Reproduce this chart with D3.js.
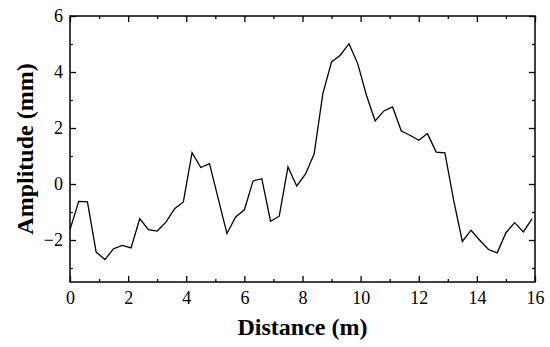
<!DOCTYPE html>
<html>
<head>
<meta charset="utf-8">
<script src="https://cdn.jsdelivr.net/npm/d3@7"></script>
<style>
  body { margin: 0; background: #fff; }
  svg text { font-family: "Liberation Serif", "Times New Roman", serif !important; }
</style>
</head>
<body>
<div id="chart"></div>
<script>
"use strict";
// distance (m) sampled every 0.3 m
const distance = [0, 0.3, 0.6, 0.9, 1.2, 1.5, 1.8, 2.1, 2.4, 2.7, 3.0, 3.3, 3.6, 3.9,
  4.2, 4.5, 4.8, 5.1, 5.4, 5.7, 6.0, 6.3, 6.6, 6.9, 7.2, 7.5, 7.8, 8.1, 8.4, 8.7,
  9.0, 9.3, 9.6, 9.9, 10.2, 10.5, 10.8, 11.1, 11.4, 11.7, 12.0, 12.3, 12.6, 12.9,
  13.2, 13.5, 13.8, 14.1, 14.4, 14.7, 15.0, 15.3, 15.6, 15.9];
// amplitude (mm)
const amplitude = [-1.63, -0.62, -0.64, -2.43, -2.70, -2.31, -2.19, -2.28, -1.24, -1.63,
  -1.68, -1.36, -0.88, -0.64, 1.12, 0.59, 0.73, -0.52, -1.77, -1.18, -0.92, 0.11, 0.19,
  -1.33, -1.15, 0.61, -0.07, 0.35, 1.07, 3.23, 4.36, 4.60, 5.01, 4.30, 3.17, 2.25, 2.61,
  2.75, 1.89, 1.74, 1.56, 1.80, 1.14, 1.11, -0.58, -2.05, -1.65, -2.01, -2.34, -2.46,
  -1.74, -1.38, -1.71, -1.24];
const xTicks = [0, 2, 4, 6, 8, 10, 12, 14, 16];
const yTicks = [-2, 0, 2, 4, 6];

const serif = "'Liberation Serif', 'Times New Roman', serif";

function createLineChart(containerId = "chart") {
  const width = 550, height = 347;
  const margin = { top: 16, right: 15, bottom: 65, left: 70 };
  const svg = d3.select(`#${containerId}`)
    .append("svg")
    .attr("width", width)
    .attr("height", height)
    .attr("font-family", serif);

  const x = d3.scaleLinear().domain([0, 16]).range([margin.left, width - margin.right]);
  const y = d3.scaleLinear().domain([-3.5, 6]).range([height - margin.bottom, margin.top]);

  const xMinor = d3.range(1, 16, 2);
  const yMinor = [-3, -1, 1, 3, 5];

  // ticks inward on all four sides
  function styleAxis(g) {
    g.attr("font-family", serif).attr("font-size", 18);
    g.selectAll(".domain").remove();
    g.selectAll("line").attr("stroke", "#000").attr("stroke-width", 1.3);
    g.selectAll("text").attr("fill", "#000").style("font-size", "18px");
  }
  const fmt = d => (d < 0 ? "\u2212" + Math.abs(d) : String(d));

  svg.append("g")
    .attr("transform", `translate(0,${y(-3.5)})`)
    .call(d3.axisBottom(x).tickValues(xTicks).tickSize(-6).tickPadding(9).tickFormat(fmt))
    .call(styleAxis);
  svg.append("g")
    .attr("transform", `translate(0,${y(-3.5)})`)
    .call(d3.axisBottom(x).tickValues(xMinor).tickSize(-3).tickFormat(""))
    .call(styleAxis);
  svg.append("g")
    .attr("transform", `translate(0,${y(6)})`)
    .call(d3.axisTop(x).tickValues(xTicks).tickSize(-6).tickFormat(""))
    .call(styleAxis);
  svg.append("g")
    .attr("transform", `translate(0,${y(6)})`)
    .call(d3.axisTop(x).tickValues(xMinor).tickSize(-3).tickFormat(""))
    .call(styleAxis);

  svg.append("g")
    .attr("transform", `translate(${x(0)},0)`)
    .call(d3.axisLeft(y).tickValues(yTicks).tickSize(-6).tickPadding(7).tickFormat(fmt))
    .call(styleAxis);
  svg.append("g")
    .attr("transform", `translate(${x(0)},0)`)
    .call(d3.axisLeft(y).tickValues(yMinor).tickSize(-3).tickFormat(""))
    .call(styleAxis);
  svg.append("g")
    .attr("transform", `translate(${x(16)},0)`)
    .call(d3.axisRight(y).tickValues(yTicks).tickSize(-6).tickFormat(""))
    .call(styleAxis);
  svg.append("g")
    .attr("transform", `translate(${x(16)},0)`)
    .call(d3.axisRight(y).tickValues(yMinor).tickSize(-3).tickFormat(""))
    .call(styleAxis);

  // frame
  svg.append("rect")
    .attr("x", x(0)).attr("y", y(6))
    .attr("width", x(16) - x(0)).attr("height", y(-3.5) - y(6))
    .attr("fill", "none").attr("stroke", "#000").attr("stroke-width", 1.5);

  const line = d3.line()
    .x((d, i) => x(distance[i]))
    .y(d => y(d));
  svg.append("path")
    .datum(amplitude)
    .attr("d", line)
    .attr("fill", "none")
    .attr("stroke", "#000")
    .attr("stroke-width", 1.3)
    .attr("stroke-linejoin", "miter");

  svg.append("text")
    .attr("x", (x(0) + x(16)) / 2)
    .attr("y", 335)
    .attr("text-anchor", "middle")
    .attr("font-size", 24)
    .attr("font-weight", "bold")
    .text("Distance (m)");

  svg.append("text")
    .attr("transform", `translate(33,${(y(6) + y(-3.5)) / 2}) rotate(-90)`)
    .attr("text-anchor", "middle")
    .attr("font-size", 24)
    .attr("font-weight", "bold")
    .text("Amplitude (mm)");
}

document.addEventListener("DOMContentLoaded", () => {
  createLineChart();
});
</script>
</body>
</html>
